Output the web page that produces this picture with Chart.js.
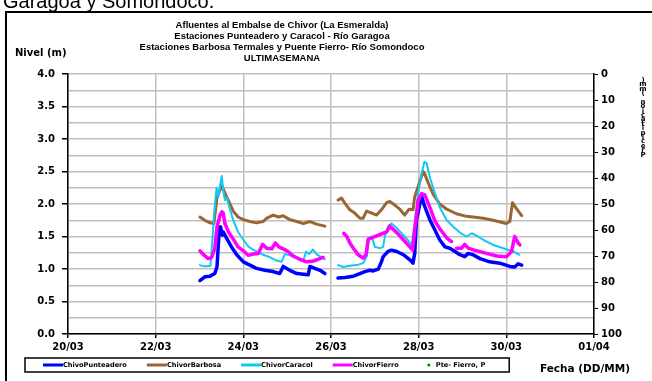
<!DOCTYPE html>
<html>
<head>
<meta charset="utf-8">
<script src="https://cdn.jsdelivr.net/npm/chart.js@4.4.1/dist/chart.umd.min.js"></script>
<style>
  html, body { margin: 0; padding: 0; background: #fff; overflow: hidden; }
  canvas { display: block; }
</style>
</head>
<body>
<canvas id="grafica" width="652" height="381"></canvas>
<script>
// dias contados desde el 20/03 (0 = 20/03 00:00), null corta la linea
var tickLabels = ['20/03', '22/03', '24/03', '26/03', '28/03', '30/03', '01/04'];

var punteaderoT = [3.01,3.12,3.24,3.35,3.40,3.45,3.48,3.52,3.54,3.62,3.73,3.85,4.00,4.15,4.30,4.49,4.68,4.83,4.91,5.06,5.22,5.48,5.52,5.63,5.75,5.86,
  6.00,
  6.16,6.32,6.51,6.66,6.77,6.89,6.96,7.08,7.15,7.19,7.30,7.38,7.50,7.65,7.80,7.87,7.91,7.95,8.03,8.07,8.10,8.14,8.26,8.37,8.48,8.60,8.71,8.83,8.94,9.05,9.13,9.24,9.40,9.62,9.85,10.08,10.19,10.27,10.35];
var punteaderoV = [0.82,0.88,0.89,0.93,1.04,1.60,1.65,1.52,1.57,1.47,1.34,1.22,1.11,1.06,1.01,0.98,0.96,0.93,1.04,0.98,0.93,0.91,1.04,1.01,0.98,0.93,
  null,
  0.86,0.87,0.89,0.93,0.96,0.98,0.97,1.00,1.11,1.19,1.27,1.29,1.27,1.22,1.14,1.09,1.24,1.75,2.01,2.11,2.04,1.96,1.75,1.60,1.45,1.34,1.32,1.27,1.22,1.19,1.24,1.22,1.16,1.11,1.09,1.04,1.03,1.08,1.06];

var barbosaT = [3.01,3.12,3.24,3.33,3.40,3.51,3.62,3.69,3.77,3.88,4.00,4.15,4.30,4.45,4.53,4.68,4.80,4.91,5.06,5.22,5.37,5.52,5.67,5.86,
  6.00,
  6.16,6.24,6.32,6.43,6.54,6.66,6.73,6.81,6.93,7.04,7.15,7.27,7.34,7.46,7.57,7.68,7.78,7.87,7.91,7.99,8.10,8.14,8.22,8.33,8.48,8.64,8.86,9.09,9.24,9.47,9.70,10.00,10.08,10.14,10.23,10.35];
var barbosaV = [1.80,1.75,1.71,1.70,2.11,2.28,2.11,2.01,1.89,1.80,1.76,1.73,1.71,1.73,1.78,1.83,1.80,1.82,1.76,1.73,1.70,1.73,1.69,1.66,
  null,
  2.06,2.09,2.01,1.91,1.86,1.78,1.78,1.89,1.86,1.83,1.91,2.02,2.04,1.98,1.92,1.83,1.92,1.91,2.11,2.27,2.50,2.46,2.32,2.15,2.00,1.92,1.85,1.81,1.80,1.78,1.75,1.70,1.73,2.02,1.93,1.82];

var caracolT = [3.01,3.12,3.25,3.30,3.35,3.39,3.43,3.47,3.51,3.54,3.58,3.62,3.69,3.77,3.88,4.00,4.11,4.19,4.30,4.45,4.61,4.76,4.87,4.95,5.06,5.22,5.37,5.43,5.50,5.59,5.68,5.79,5.86,
  6.00,
  6.16,6.28,6.43,6.58,6.73,6.81,6.87,6.93,7.00,7.12,7.19,7.23,7.30,7.38,7.50,7.65,7.76,7.84,7.91,7.99,8.07,8.13,8.18,8.26,8.37,8.48,8.64,8.79,8.94,9.09,9.21,9.33,9.47,9.70,9.93,10.16,10.29];
var caracolV = [1.06,1.04,1.05,1.50,1.98,2.25,2.11,2.29,2.43,2.22,2.06,2.10,1.93,1.75,1.57,1.45,1.35,1.31,1.27,1.22,1.18,1.13,1.11,1.23,1.21,1.16,1.13,1.27,1.23,1.30,1.22,1.18,1.15,
  null,
  1.06,1.03,1.05,1.06,1.09,1.18,1.48,1.50,1.34,1.32,1.34,1.51,1.65,1.70,1.63,1.52,1.44,1.37,1.71,2.18,2.47,2.65,2.63,2.40,2.17,1.95,1.75,1.65,1.56,1.50,1.55,1.51,1.45,1.37,1.32,1.27,1.22];

var fierroT = [3.01,3.09,3.20,3.28,3.35,3.40,3.47,3.51,3.54,3.58,3.66,3.77,3.88,4.00,4.11,4.23,4.34,4.44,4.53,4.65,4.73,4.81,4.91,5.02,5.14,5.29,5.44,5.59,5.71,5.82,
  6.00,
  6.29,6.36,6.43,6.51,6.62,6.73,6.80,6.85,6.93,7.04,7.19,7.27,7.34,7.42,7.50,7.61,7.72,7.80,7.86,7.91,7.99,8.07,8.14,8.26,8.37,8.48,8.64,8.75,
  8.80,
  8.86,8.98,9.05,9.13,9.32,9.55,9.78,10.00,10.12,10.19,10.27,10.31];
var fierroV = [1.28,1.22,1.16,1.18,1.32,1.65,1.83,1.88,1.86,1.70,1.57,1.46,1.34,1.28,1.21,1.23,1.24,1.38,1.32,1.31,1.40,1.34,1.31,1.27,1.20,1.15,1.11,1.12,1.15,1.18,
  null,
  1.55,1.50,1.40,1.32,1.22,1.17,1.22,1.46,1.48,1.51,1.55,1.57,1.66,1.61,1.56,1.48,1.40,1.34,1.29,1.60,2.06,2.16,2.14,1.94,1.74,1.62,1.48,1.42,
  null,
  1.32,1.32,1.38,1.32,1.28,1.24,1.20,1.19,1.27,1.50,1.40,1.37];

// precipitacion Pte. Fierro: sin registros en la semana
var lluviaT = [];
var lluviaV = [];

var titulo = [
  'Afluentes al Embalse de Chivor (La Esmeralda)',
  'Estaciones Punteadero y Caracol - Río Garagoa',
  'Estaciones Barbosa Termales y Puente Fierro- Río Somondoco',
  'ULTIMASEMANA'
];

function puntos(t, v) {
  return t.map(function (x, i) { return { x: x, y: v[i] }; });
}

function esMayor(v) {
  return Math.abs(v * 2 - Math.round(v * 2)) < 1e-6;
}

var FUENTE = 'DejaVu Sans';
Chart.defaults.font.family = FUENTE;
Chart.defaults.font.weight = 'bold';
Chart.defaults.color = '#000';

// marco, titulos, leyenda y rotulos que van fuera del area de trazado
var marco = {
  id: 'marco',
  afterDraw: function (chart) {
    var c = chart.ctx;
    c.save();

    c.fillStyle = '#000';
    c.font = '20px "Liberation Sans"';
    c.textAlign = 'left';
    c.textBaseline = 'alphabetic';
    c.fillText('Garagoa y Somondoco.', 3, 8);

    c.strokeStyle = '#000';
    c.lineWidth = 2;
    c.beginPath();
    c.moveTo(6, 381);
    c.lineTo(6, 12);
    c.lineTo(652, 12);
    c.stroke();

    c.font = 'bold 9.5px "Liberation Sans"';
    c.textAlign = 'center';
    c.textBaseline = 'middle';
    var ys = [25, 36, 47, 58];
    titulo.forEach(function (t, i) { c.fillText(t, 282, ys[i]); });

    c.textAlign = 'left';
    c.font = 'bold 10px ' + FUENTE;
    c.fillText('Nivel (m)', 15, 53);

    c.font = 'bold 10.5px ' + FUENTE;
    c.fillText('Fecha (DD/MM)', 540, 369);

    // rotulo del eje derecho, letras apiladas
    var rot = 'Precipitación (mm)'.split('').reverse();
    c.font = 'bold 7px ' + FUENTE;
    c.textAlign = 'center';
    rot.forEach(function (ch, i) { c.fillText(ch, 643, 80 + i * 4.4); });

    // leyenda
    var top = 358, bot = 372, mid = (top + bot) / 2;
    c.font = 'bold 6.6px ' + FUENTE;
    c.textAlign = 'left';
    var x = 43;
    chart.data.datasets.forEach(function (ds) {
      if (ds.showLine === false) {
        c.fillStyle = ds.backgroundColor;
        c.beginPath();
        c.arc(x + 10, mid, 1.5, 0, Math.PI * 2);
        c.fill();
        x += 17;
      } else {
        c.strokeStyle = ds.borderColor;
        c.lineWidth = 3;
        c.beginPath();
        c.moveTo(x, mid);
        c.lineTo(x + 20, mid);
        c.stroke();
        x += 20;
      }
      c.fillStyle = '#000';
      c.fillText(ds.label, x, mid + 0.5);
      x += c.measureText(ds.label).width + 20;
    });
    c.strokeStyle = '#000';
    c.lineWidth = 1.5;
    c.strokeRect(25, top, x - 25 + 4, bot - top);

    c.restore();
  }
};

var graph = document.getElementById('grafica');

var data = {
  datasets: [
    { label: 'ChivoPunteadero', data: puntos(punteaderoT, punteaderoV), borderColor: '#0000ff', backgroundColor: '#0000ff', borderWidth: 3.5, order: 3 },
    { label: 'ChivorBarbosa', data: puntos(barbosaT, barbosaV), borderColor: '#996633', backgroundColor: '#996633', borderWidth: 3, order: 2 },
    { label: 'ChivorCaracol', data: puntos(caracolT, caracolV), borderColor: '#11c8f5', backgroundColor: '#11c8f5', borderWidth: 2, order: 1 },
    { label: 'ChivorFierro', data: puntos(fierroT, fierroV), borderColor: '#ff00ff', backgroundColor: '#ff00ff', borderWidth: 3.5, order: 0 },
    { label: 'Pte- Fierro, P', data: puntos(lluviaT, lluviaV), yAxisID: 'y1', showLine: false, pointRadius: 1.5, borderColor: '#008000', backgroundColor: '#008000', order: 4 }
  ]
};

var config = {
  type: 'line',
  data: data,
  options: {
    responsive: false,
    animation: false,
    spanGaps: false,
    layout: { padding: { top: 74, bottom: 27, left: 0, right: 0 } },
    elements: {
      point: { radius: 0 },
      line: { tension: 0, borderCapStyle: 'round', borderJoinStyle: 'round' }
    },
    plugins: {
      legend: { display: false },
      title: { display: false },
      tooltip: { enabled: false }
    },
    scales: {
      x: {
        type: 'linear',
        min: 0,
        max: 12,
        afterFit: function (s) { s.height = 20; },
        ticks: {
          stepSize: 2,
          autoSkip: false,
          maxRotation: 0,
          padding: 3,
          font: { size: 10, weight: 'bold' },
          callback: function (v) { return tickLabels[Math.round(v / 2)]; }
        },
        grid: { color: '#c0c0c0', lineWidth: 1.5, tickLength: 4, tickColor: '#000' },
        border: { color: '#000', width: 1.5 }
      },
      y: {
        position: 'left',
        min: 0,
        max: 4,
        afterFit: function (s) { s.width = 68; },
        ticks: {
          stepSize: 0.25,
          autoSkip: false,
          padding: 7,
          font: { size: 10, weight: 'bold' },
          callback: function (v) { return esMayor(v) ? v.toFixed(1) : ''; }
        },
        grid: {
          color: '#c0c0c0',
          lineWidth: 1.5,
          tickLength: 6,
          tickColor: function (ctx) { return ctx.tick && esMayor(ctx.tick.value) ? '#000' : 'rgba(0,0,0,0)'; }
        },
        border: { color: '#000', width: 1.5 }
      },
      y1: {
        position: 'right',
        min: 0,
        max: 100,
        reverse: true,
        afterFit: function (s) { s.width = 58; },
        ticks: { stepSize: 10, autoSkip: false, padding: 3, font: { size: 10, weight: 'bold' } },
        grid: { drawOnChartArea: false, tickLength: 4, tickColor: '#000' },
        border: { color: '#000', width: 1.5 }
      }
    }
  },
  plugins: [marco]
};

new Chart(graph, config);
</script>
</body>
</html>
